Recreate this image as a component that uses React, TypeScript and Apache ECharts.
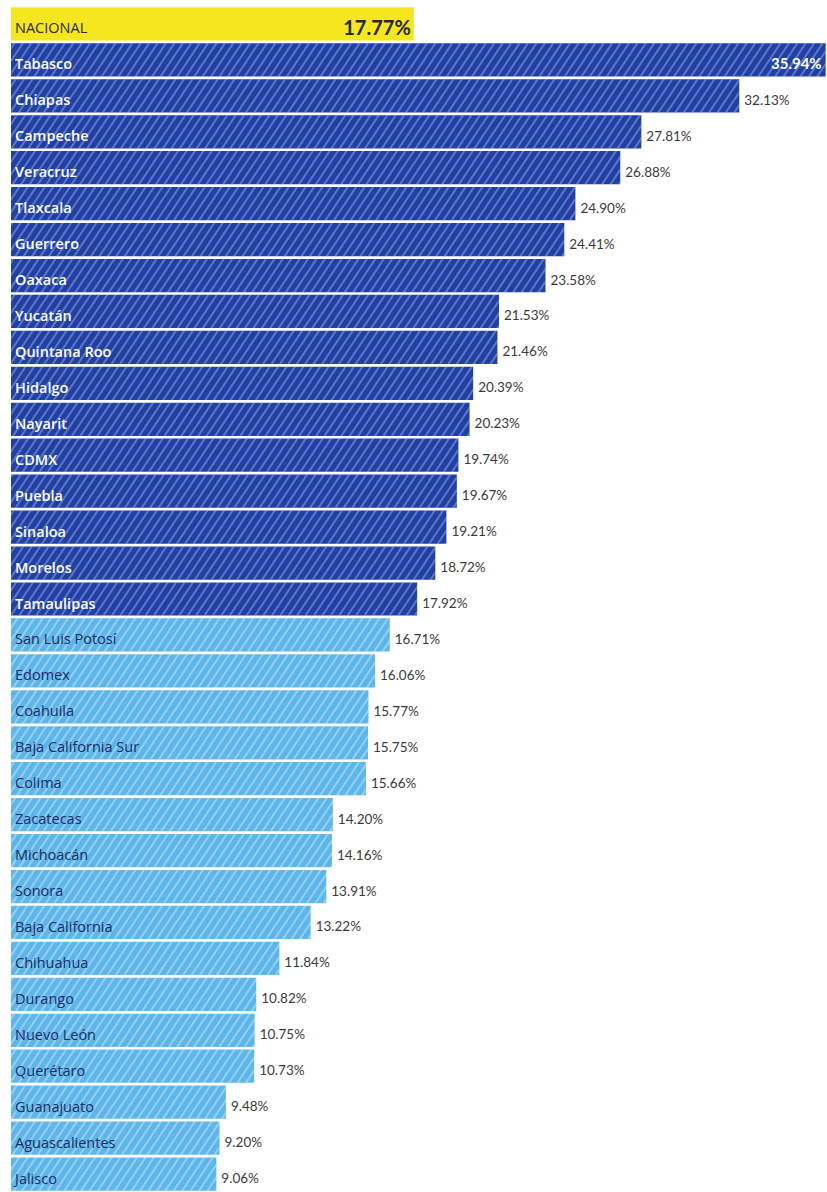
import React, { useEffect, useRef } from "react";
import * as echarts from "echarts";

const states = [
  "NACIONAL", "Tabasco", "Chiapas", "Campeche", "Veracruz", "Tlaxcala", "Guerrero", "Oaxaca",
  "Yucatán", "Quintana Roo", "Hidalgo", "Nayarit", "CDMX", "Puebla", "Sinaloa", "Morelos",
  "Tamaulipas", "San Luis Potosí", "Edomex", "Coahuila", "Baja California Sur", "Colima",
  "Zacatecas", "Michoacán", "Sonora", "Baja California", "Chihuahua", "Durango", "Nuevo León",
  "Querétaro", "Guanajuato", "Aguascalientes", "Jalisco",
];
const values = [
  17.77, 35.94, 32.13, 27.81, 26.88, 24.9, 24.41, 23.58,
  21.53, 21.46, 20.39, 20.23, 19.74, 19.67, 19.21, 18.72,
  17.92, 16.71, 16.06, 15.77, 15.75, 15.66,
  14.2, 14.16, 13.91, 13.22, 11.84, 10.82, 10.75,
  10.73, 9.48, 9.2, 9.06,
];
const nationalValue = 17.77;

const YELLOW = "#f6e61f";
const DARK = "#2140a2";
const LIGHT = "#5db6eb";
const NAME_FONT = "Open Sans";
const VALUE_FONT = "Lato";

export default function App() {
  const ref = useRef<HTMLDivElement>(null);
  useEffect(() => {
    if (!ref.current) return;
    const chart = echarts.init(ref.current, null, { renderer: "svg" });
    const stripe = (c: string) => ({
      symbol: "rect",
      symbolSize: 1,
      dashArrayX: [1, 0],
      dashArrayY: [1.1, 5],
      rotation: -Math.PI / 3.2,
      color: c,
    });
    const barData = states.map((s, i) => {
      const v = values[i];
      if (s === "NACIONAL") {
        return {
          value: v,
          itemStyle: { color: YELLOW, decal: { symbol: "none", color: "rgba(0,0,0,0)" } },
          label: { color: "#2a2a2a", fontSize: 14.5 },
        };
      }
      const dark = v > nationalValue;
      return {
        value: v,
        itemStyle: {
          color: dark ? DARK : LIGHT,
          decal: stripe(dark ? "rgba(170,195,255,0.42)" : "rgba(255,255,255,0.35)"),
        },
        label: { color: dark ? "#ffffff" : "#1c2c66", fontWeight: dark ? 600 : "normal" },
      };
    });
    const valueData = states.map((s, i) => {
      const v = values[i];
      const txt = v.toFixed(2) + "%";
      if (s === "NACIONAL") {
        return {
          value: v,
          label: { position: "insideRight", distance: 3, offset: [0, 3], color: "#2a2a2a", fontWeight: "bold", fontSize: 20, formatter: txt },
        };
      }
      if (i === 1) {
        return {
          value: v,
          label: { position: "insideRight", distance: 3, offset: [-1, 3], color: "#ffffff", fontWeight: "bold", fontSize: 15, formatter: txt },
        };
      }
      return { value: v, label: { formatter: txt } };
    });
    chart.setOption({
      animation: false,
      grid: { left: 11, top: 6, width: 820.8, height: 1194.6, containLabel: false },
      xAxis: { type: "value", min: 0, max: 36, show: false },
      yAxis: {
        type: "category",
        data: states,
        inverse: true,
        show: false,
      },
      series: [
        {
          type: "bar",
          data: barData,
          barCategoryGap: "7.5%",
          label: {
            show: true,
            position: "insideLeft",
            distance: 4,
            offset: [0, 4],
            fontFamily: NAME_FONT,
            fontSize: 14.5,
            formatter: (p: any) => p.name,
          },
          silent: true,
        },
        {
          type: "bar",
          data: valueData,
          barGap: "-100%",
          barCategoryGap: "7.5%",
          itemStyle: { color: "rgba(0,0,0,0)" },
          label: {
            show: true,
            position: "right",
            distance: 5,
            offset: [0, 4],
            fontFamily: VALUE_FONT,
            fontSize: 13.5,
            color: "#3a3a3a",
          },
          silent: true,
        },
      ],
    });
    return () => chart.dispose();
  }, []);
  return (
    <div
      ref={ref}
      style={{ position: "fixed", left: 0, top: 0, width: 827, height: 1192, background: "#ffffff" }}
    />
  );
}
